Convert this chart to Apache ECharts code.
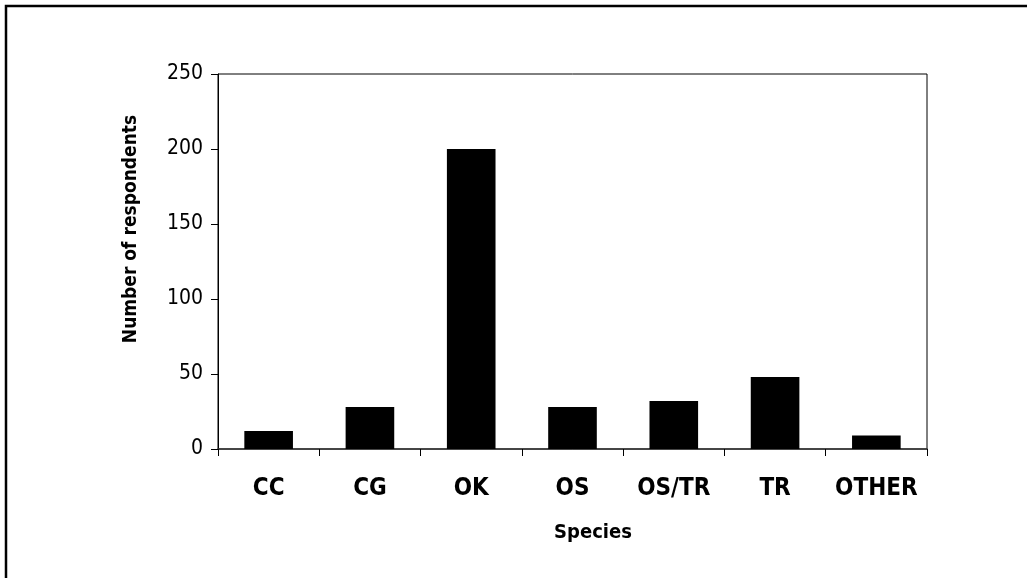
<!DOCTYPE html>
<html>
<head>
<meta charset="utf-8">
<script src="https://cdn.jsdelivr.net/npm/echarts@6/dist/echarts.min.js"></script>
<style>
html,body{margin:0;padding:0;background:#fff;}
#c{width:1027px;height:578px;}
</style>
</head>
<body>
<div id="c"></div>
<script>
const categories = ['CC', 'CG', 'OK', 'OS', 'OS/TR', 'TR', 'OTHER'];
const respondents = [12, 28, 200, 28, 32, 48, 9];
const yTicks = [0, 50, 100, 150, 200, 250];

const FONT = '"DejaVu Sans Condensed", "Liberation Sans", sans-serif';
const chart = echarts.init(document.getElementById('c'), null, {renderer: 'canvas'});
chart.setOption({
  animation: false,
  backgroundColor: '#fff',
  grid: {left: 218, right: 100, top: 74, bottom: 129, show: true, borderColor: '#000', borderWidth: 1, backgroundColor: 'transparent'},
  xAxis: {
    type: 'category',
    data: categories,
    boundaryGap: true,
    axisLine: {show: true, lineStyle: {color: '#333', width: 1.5}},
    axisTick: {show: true, length: 7, lineStyle: {color: '#000'}},
    axisLabel: {interval: 0, margin: 28, color: '#000', fontFamily: FONT, fontWeight: 'bold', fontSize: 24}
  },
  yAxis: {
    type: 'value',
    min: yTicks[0], max: yTicks[yTicks.length - 1], interval: 50,
    splitLine: {show: false},
    axisLine: {show: true, lineStyle: {color: '#000', width: 1}},
    axisTick: {show: true, length: 7, lineStyle: {color: '#000'}},
    axisLabel: {margin: 15, color: '#000', fontFamily: FONT, fontSize: 21}
  },
  graphic: [
    {type: 'rect', shape: {x: 6, y: 6, width: 1200, height: 800}, style: {fill: 'none', stroke: '#000', lineWidth: 2.5}, silent: true},
    {type: 'text', x: 131, y: 229, rotation: Math.PI / 2, style: {text: 'Number of respondents', fill: '#000', font: 'bold 19px ' + FONT, align: 'center', verticalAlign: 'middle'}},
    {type: 'text', x: 593, y: 533, style: {text: 'Species', fill: '#000', font: 'bold 20px ' + FONT, align: 'center', verticalAlign: 'middle'}}
  ],
  series: [{
    type: 'bar',
    data: respondents,
    barWidth: '48%',
    itemStyle: {color: '#000'}
  }]
});
</script>
</body>
</html>
